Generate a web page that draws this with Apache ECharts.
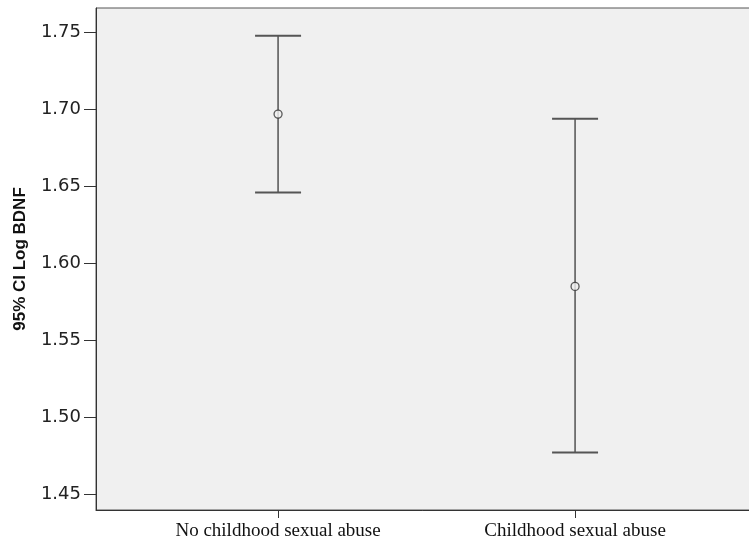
<!DOCTYPE html>
<html>
<head>
<meta charset="utf-8">
<script src="https://cdn.jsdelivr.net/npm/echarts@6/dist/echarts.min.js"></script>
<style>
  html, body { margin: 0; padding: 0; background: #ffffff; }
  #chart { width: 749px; height: 547px; }
</style>
</head>
<body>
<div id="chart"></div>
<script>
// Group labels and 95% confidence intervals of log BDNF
const categories = ['No childhood sexual abuse', 'Childhood sexual abuse'];
const means = [1.697, 1.585];
const lowerCI = [1.646, 1.477];
const upperCI = [1.748, 1.694];
const yTicks = [1.45, 1.50, 1.55, 1.60, 1.65, 1.70, 1.75];

// groups sit at x = 1, 2 on a numeric axis
const groupPos = categories.map((_, i) => i + 1);

const chart = echarts.init(document.getElementById('chart'), null, { renderer: 'canvas' });

const lineColor = '#3a3a3a';
const plotWidth = 662;   // right border falls just past the canvas edge
const pxPerGroup = 297;

const option = {
  backgroundColor: '#ffffff',
  animation: false,
  grid: {
    left: 96, top: 8, width: plotWidth, height: 502,
    outerBoundsMode: 'none',
    containLabel: false,
    show: true,
    backgroundColor: '#f0f0f0',
    borderColor: '#555555',
    borderWidth: 1
  },
  xAxis: {
    type: 'value',
    min: 0.387,
    max: 0.387 + plotWidth / pxPerGroup,
    axisLine: { show: true, onZero: false, lineStyle: { color: '#333333', width: 1 } },
    axisTick: { show: true, customValues: groupPos, length: 8, lineStyle: { color: '#333333' } },
    splitLine: { show: false },
    axisLabel: {
      customValues: groupPos,
      formatter: v => categories[Math.round(v) - 1] || '',
      fontFamily: '"Liberation Serif", "Times New Roman", serif',
      fontSize: 19,
      color: '#111111',
      margin: 12
    }
  },
  yAxis: {
    type: 'value',
    min: 1.4396,
    max: 1.766,
    name: '95% CI Log BDNF',
    nameLocation: 'middle',
    nameGap: 67,
    nameRotate: 90,
    nameTextStyle: {
      fontFamily: '"Liberation Sans", Arial, sans-serif',
      fontWeight: 'bold',
      fontSize: 17,
      color: '#111111'
    },
    axisLine: { show: true, lineStyle: { color: '#333333', width: 1 } },
    axisTick: { show: true, customValues: yTicks, length: 12, lineStyle: { color: '#333333' } },
    splitLine: { show: false },
    axisLabel: {
      customValues: yTicks,
      formatter: v => v.toFixed(2),
      fontFamily: '"DejaVu Sans", sans-serif',
      fontSize: 18,
      color: '#222222',
      margin: 15
    }
  },
  series: [
    {
      type: 'custom',
      data: groupPos.map((x, i) => [x, lowerCI[i], upperCI[i]]),
      encode: { x: 0, y: [1, 2] },
      renderItem: function (params, api) {
        const x = api.value(0);
        const lo = api.coord([x, api.value(1)]);
        const hi = api.coord([x, api.value(2)]);
        const half = 23;
        const style = { stroke: lineColor, lineWidth: 1.3 };
        return {
          type: 'group',
          children: [
            { type: 'line', shape: { x1: hi[0], y1: hi[1], x2: lo[0], y2: lo[1] }, style: style },
            { type: 'line', shape: { x1: hi[0] - half, y1: hi[1], x2: hi[0] + half, y2: hi[1] }, style: { stroke: '#555555', lineWidth: 2 } },
            { type: 'line', shape: { x1: lo[0] - half, y1: lo[1], x2: lo[0] + half, y2: lo[1] }, style: { stroke: '#555555', lineWidth: 2 } }
          ]
        };
      },
      z: 2
    },
    {
      type: 'scatter',
      data: groupPos.map((x, i) => [x, means[i]]),
      symbol: 'circle',
      symbolSize: 8,
      itemStyle: { color: '#f0f0f0', borderColor: '#333333', borderWidth: 1.3 },
      z: 3
    }
  ]
};

chart.setOption(option);
</script>
</body>
</html>
